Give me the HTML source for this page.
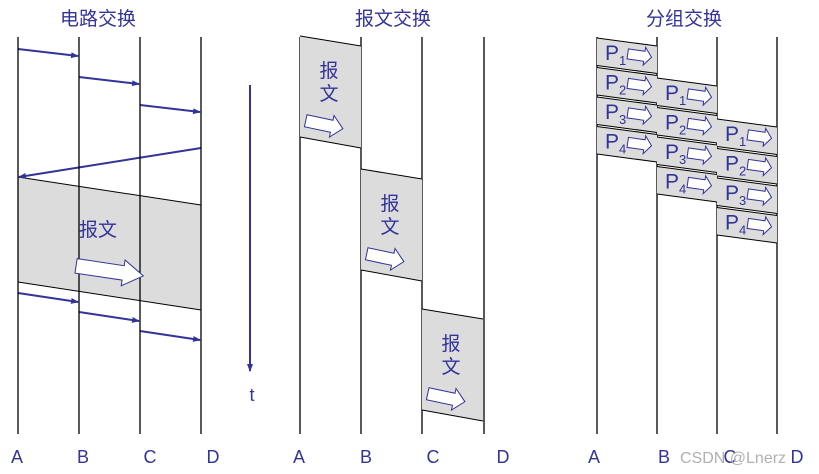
<!DOCTYPE html>
<html><head><meta charset="utf-8"><style>
html,body{margin:0;padding:0;background:#fff;width:819px;height:474px;overflow:hidden}
text{font-family:"Liberation Sans","Noto Sans CJK SC",sans-serif;fill:#333399}
</style></head><body>
<svg id="s" width="819" height="474" viewBox="0 0 819 474" xmlns="http://www.w3.org/2000/svg">
<defs>
<marker id="ah" markerWidth="8" markerHeight="6" refX="7" refY="3" orient="auto" markerUnits="userSpaceOnUse"><path d="M0,0 L8,3 L0,6 Z" fill="#333399"/></marker>
</defs>
<g id="g"></g>
<text x="98" y="25" font-size="19" text-anchor="middle">电路交换</text>
<text x="393" y="25" font-size="19" text-anchor="middle">报文交换</text>
<text x="684" y="25" font-size="19" text-anchor="middle">分组交换</text>
<polygon points="18,177 201,205 201,310 18,282" fill="#dcdcdc"/>
<line x1="18" y1="177" x2="201" y2="205" stroke="#000" stroke-width="1"/>
<line x1="18" y1="282" x2="201" y2="310" stroke="#000" stroke-width="1"/>
<g stroke="#333399" stroke-width="2" marker-end="url(#ah)">
<line x1="18" y1="49" x2="78" y2="56"/>
<line x1="79" y1="77" x2="139" y2="84"/>
<line x1="140" y1="105" x2="200" y2="112"/>
<line x1="201" y1="148" x2="19" y2="177"/>
<line x1="18" y1="293" x2="78" y2="302"/>
<line x1="79" y1="312" x2="139" y2="321"/>
<line x1="140" y1="331" x2="200" y2="340"/>
<line x1="250" y1="85" x2="250" y2="371"/>
</g>
<text x="252" y="401" font-size="18" text-anchor="middle">t</text>
<text x="98" y="236" font-size="19" text-anchor="middle">报文</text>
<g id="lines" stroke="#000" stroke-width="1.3"></g>
</svg>
<script>
var ns="http://www.w3.org/2000/svg",svg=document.getElementById('s');
function el(t,a,p,txt){var e=document.createElementNS(ns,t);for(var k in a)e.setAttribute(k,a[k]);if(txt)e.textContent=txt;(p||svg).appendChild(e);return e;}
var xs=[18,79,140,201,300,361,422,484,597,657,717,777];
xs.forEach(function(x){el('line',{x1:x,y1:37,x2:x,y2:434,stroke:'#000','stroke-width':1.3},document.getElementById('lines'));});
var L=['A','B','C','D'];
var lx=[17,83,150,213,299,366,433,503,594,664,730,797];
lx.forEach(function(x,i){el('text',{x:x,y:463,'font-size':18,'text-anchor':'middle'},svg,L[i%4]);});
function arrow(x,y,w,h,rot){
 var hw=w*0.3,b=h*0.22;
 var d='M0,'+b+' L'+(w-hw)+','+b+' L'+(w-hw)+',0 L'+w+','+(h/2)+' L'+(w-hw)+','+h+' L'+(w-hw)+','+(h-b)+' L0,'+(h-b)+' Z';
 el('path',{d:d,fill:'#fff',stroke:'#333399','stroke-width':1,transform:'translate('+x+','+y+') rotate('+rot+')'});
}
arrow(78,253,68,26,8.5);
[[300,36],[361,169],[422,309]].forEach(function(b){
 var x=b[0],y=b[1];
 el('polygon',{points:x+','+y+' '+(x+61)+','+(y+10)+' '+(x+61)+','+(y+112)+' '+x+','+(y+101),fill:'#dcdcdc'});
 el('line',{x1:x,y1:y,x2:x+61,y2:y+10,stroke:'#000'});
 el('line',{x1:x,y1:y+101,x2:x+61,y2:y+112,stroke:'#000'});
 el('text',{x:x+29,y:y+41,'font-size':19,'text-anchor':'middle'},svg,'报');
 el('text',{x:x+29,y:y+64,'font-size':19,'text-anchor':'middle'},svg,'文');
 arrow(x+8,y+74,38,22,12);
});
[[597,38],[657,78],[717,119]].forEach(function(b){
 var x=b[0],y0=b[1];
 for(var i=0;i<4;i++){
  var t=y0+i*29.5,bt=t+27.5;
  el('polygon',{points:x+','+t+' '+(x+60)+','+(t+8)+' '+(x+60)+','+(bt+8)+' '+x+','+bt,fill:'#dcdcdc'});
  el('line',{x1:x,y1:t,x2:x+60,y2:t+8,stroke:'#000'});
  el('line',{x1:x,y1:bt,x2:x+60,y2:bt+8,stroke:'#000'});
  el('text',{x:x+8,y:t+22,'font-size':21},svg,'P');
  el('text',{x:x+22,y:t+27,'font-size':13},svg,String(i+1));
  arrow(x+32,t+7,24,18,8);
 }
});
el('text',{x:680,y:463,'font-size':16,style:'fill:#b0b0b0'},svg,'CSDN @Lnerz');
</script>
</body></html>
